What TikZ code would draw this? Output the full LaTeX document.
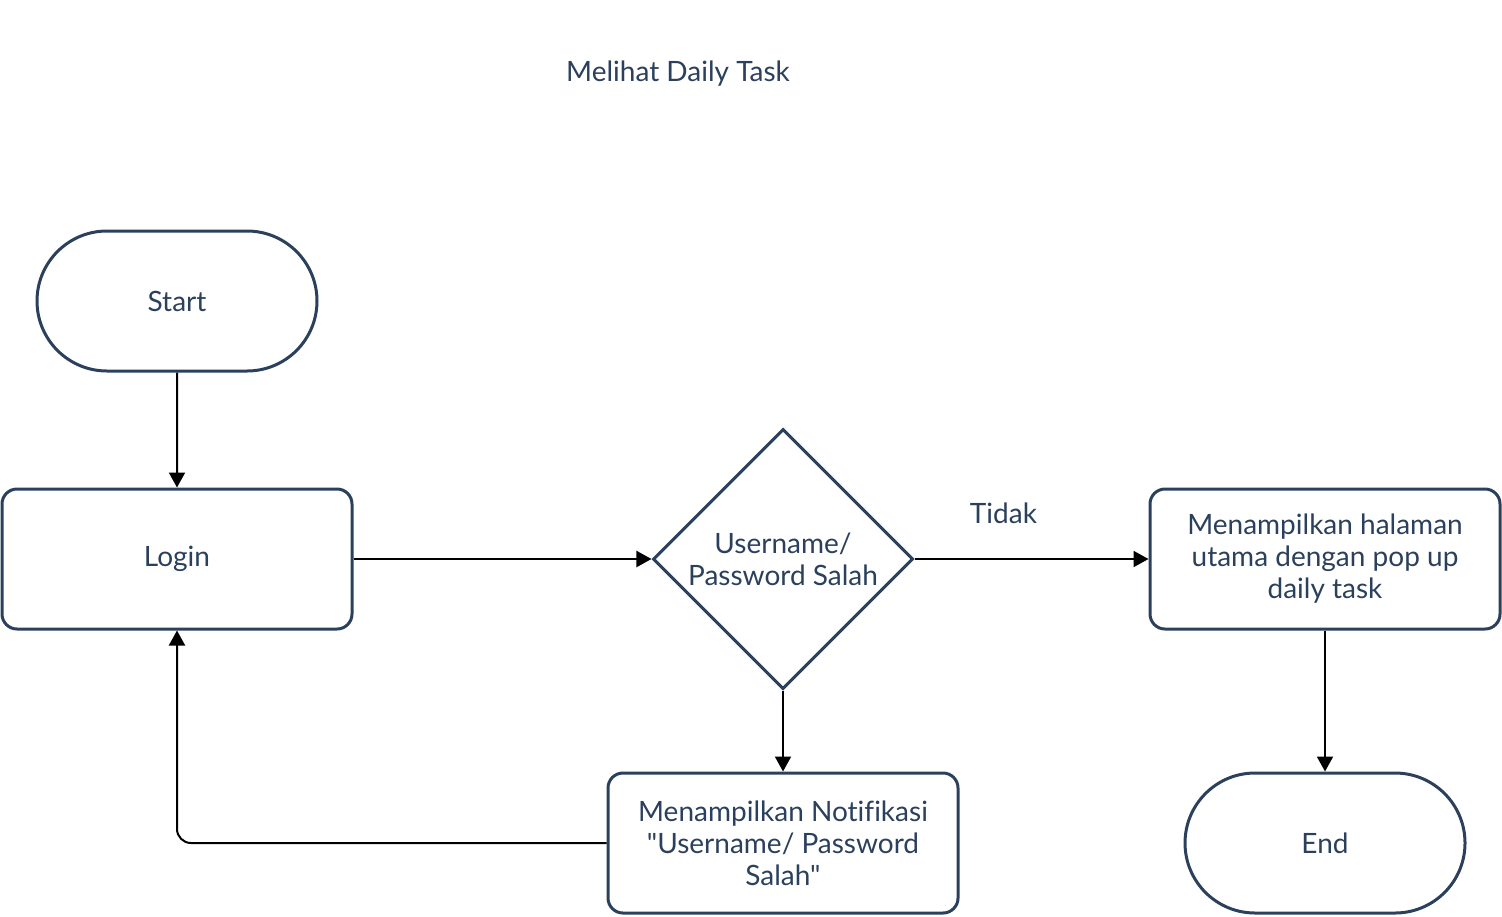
\documentclass[tikz,border=0pt]{standalone}
\usepackage{fontspec}
\setmainfont{Lato}[Ligatures={TeXOff,NoCommon}]
\usetikzlibrary{shapes.geometric,shapes.misc,arrows.meta}
\definecolor{navy}{HTML}{2B405C}

\begin{document}
\begin{tikzpicture}[x=0.5pt,y=-0.5pt,
    font=\fontsize{14pt}{16pt}\selectfont,
    box/.style={draw=navy, line width=1.5pt, text=navy, rounded corners=7.5pt,
      minimum width=175pt, minimum height=70pt, align=center, inner sep=0pt},
    term/.style={draw=navy, line width=1.5pt, text=navy, rounded rectangle,
      minimum width=140pt, minimum height=70pt, inner sep=0pt},
    cond/.style={draw=navy, line width=1.5pt, text=navy, diamond, aspect=1,
      minimum size=130pt, inner sep=0pt, align=center},
    conn/.style={line width=1pt, -{Triangle[length=7.5pt,width=8pt]}}]
    \useasboundingbox (0,0) rectangle (1502,916);

    \node[text=navy] (title) at (678,74) {Melihat Daily Task};

    \node[term] (start) at (177,301) {\raisebox{-1pt}{Start}};
    \node[box] (login) at (177,559) {\raisebox{-1.5pt}{Login}};
    \node[cond] (cek) at (783,559) {Username/\\Password Salah};
    \node[box] (utama) at (1325,559) {Menampilkan halaman\\utama dengan pop up\\daily task};
    \node[box] (notif) at (783,843) {Menampilkan Notifikasi\\"Username/ Password\\Salah"};
    \node[term] (end) at (1325,843) {\raisebox{-1pt}{End}};

    \draw[conn] (start) -- (login);
    \draw[conn] (login) -- (cek);
    \draw[conn] (cek) -- node[pos=0.38, above=14pt, text=navy] (tidak) {Tidak} (utama);
    \draw[conn] (cek) -- (notif);
    \draw[conn] (utama) -- (end);
    \draw[conn, rounded corners=7pt] (notif.west) -| (login.south);
\end{tikzpicture}
\end{document}
